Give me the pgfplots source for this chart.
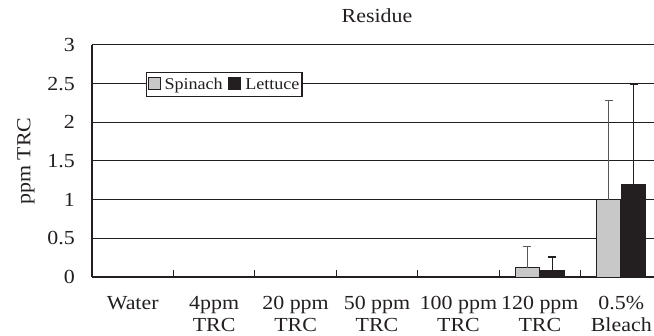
\documentclass[border=0pt]{standalone}
\usepackage{fontspec}
\setmainfont[FakeStretch=1.1]{Liberation Serif}
\usepackage{pgfplots}
\pgfplotsset{compat=1.18}
\definecolor{spin}{HTML}{C8C8C8}
\definecolor{lett}{HTML}{231F20}
\definecolor{ink}{HTML}{231F20}
\begin{document}
\begin{tikzpicture}
\begin{axis}[
 at={(0,0)}, anchor=south west,
 scale only axis, width=570bp, height=232bp,
 ybar=1bp, bar width=24bp,
 xmin=-0.5, xmax=6.5, ymin=0, ymax=3,
 axis x line*=bottom, axis y line*=left,
 axis line style={ink, line width=1.1bp, -},
 xtick={0,...,6},
 xticklabels={Water, 4ppm\\TRC, 20 ppm\\TRC, 50 ppm\\TRC, 100 ppm\\TRC, 120 ppm\\TRC, 0.5\%\\Bleach},
 minor xtick={0.5,1.5,...,5.5},
 major tick length=0pt,
 minor tick length=7bp,
 tick align=inside,
 minor tick style={ink, line width=1bp},
 ytick={0,0.5,...,3},
 ymajorgrids, major grid style={ink, line width=1bp},
 /pgf/number format/assume math mode=true,
 tick label style={font=\fontsize{20}{22}\selectfont, text=ink},
 xticklabel style={align=center, anchor=north, inner sep=0pt, yshift=-19bp},
 yticklabel style={anchor=east, inner sep=0pt, xshift=-17bp},
 ylabel={ppm TRC},
 ylabel style={at={(axis description cs:-0.1158,0.5)}, anchor=center, font=\fontsize{20}{23}\selectfont, text=ink},
 title={Residue},
 title style={at={(axis description cs:0.5,1)}, anchor=base, yshift=17bp, font=\fontsize{20}{23}\selectfont, text=ink},
 legend style={at={(axis description cs:0.0947,0.8836)}, anchor=north west, legend columns=2, draw=ink, line width=1.1bp, fill=white, font=\fontsize{16.5}{19}\selectfont, text=ink, inner xsep=1bp, inner ysep=4bp, nodes={inner sep=1.5bp},
   /tikz/every odd column/.append style={column sep=2.5bp},
   /tikz/every even column/.append style={column sep=4bp}},
 legend image code/.code={\draw[#1, line width=1bp] (0bp,-5bp) rectangle (12bp,7bp);},
]
\addplot+[fill=spin, draw=ink, line width=0.9bp,
  error bars/.cd, y dir=plus, y explicit,
  error bar style={line width=1bp, color=ink!75},
  error mark options={rotate=90, mark size=4bp, line width=1.3bp, color=ink!75}]
  coordinates {(5,0.12) +- (0,0.27) (6,1.0) +- (0,1.28)};
\addplot+[fill=lett, draw=ink, line width=0.9bp,
  error bars/.cd, y dir=plus, y explicit,
  error bar style={line width=1bp, color=ink},
  error mark options={rotate=90, mark size=4bp, line width=1.3bp, color=ink}]
  coordinates {(5,0.09) +- (0,0.17) (6,1.2) +- (0,1.29)};
\legend{Spinach, Lettuce}
\end{axis}
\pgfresetboundingbox
\path[use as bounding box] (-92bp,-59bp) rectangle (562bp,277bp);
\end{tikzpicture}
\end{document}
